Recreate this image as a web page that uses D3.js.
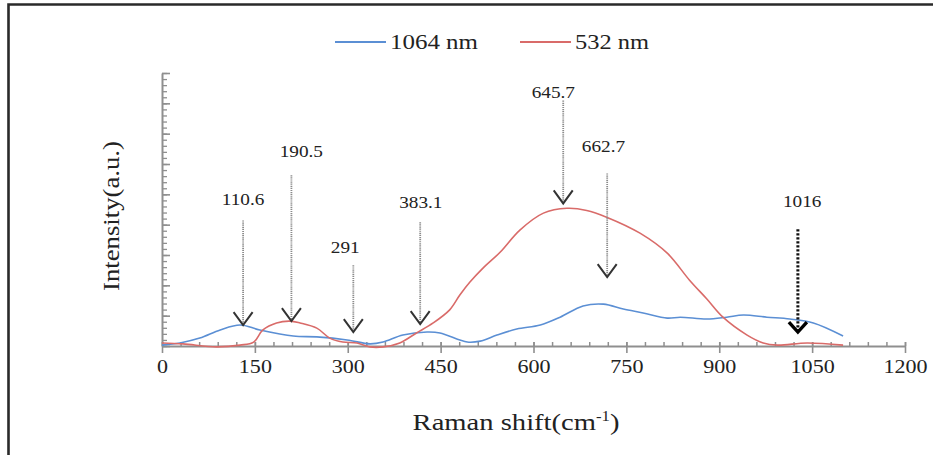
<!DOCTYPE html>
<html>
<head>
<meta charset="utf-8">
<script src="https://cdn.jsdelivr.net/npm/d3@7/dist/d3.min.js"></script>
<style>
  html, body { margin: 0; padding: 0; background: #fff; }
  svg { display: block; }
  svg text { font-family: "Liberation Serif", "Times New Roman", Times, serif; fill: #222; }
</style>
</head>
<body>
<svg id="chart" width="933" height="455"></svg>
<script>
// Raman shift (cm-1) and intensity (a.u.) for each excitation wavelength
const shift1064 = [0, 29, 61, 94, 126, 158, 212, 250, 299, 336, 357, 389, 428, 449, 493, 514, 541, 573, 611, 643, 680, 713, 745, 777, 816, 837, 880, 912, 939, 977, 1014, 1052, 1100];
const int1064   = [0.03, 0.1, 0.26, 0.53, 0.69, 0.53, 0.33, 0.3, 0.2, 0.07, 0.13, 0.36, 0.46, 0.43, 0.13, 0.16, 0.36, 0.56, 0.69, 0.95, 1.32, 1.38, 1.22, 1.09, 0.92, 0.95, 0.89, 0.95, 1.02, 0.95, 0.89, 0.76, 0.33];

const shift532 = [0, 34, 88, 126, 148, 163, 185, 207, 223, 250, 271, 292, 315, 336, 357, 384, 411, 438, 465, 481, 497, 520, 546, 578, 616, 654, 686, 719, 772, 816, 852, 880, 906, 945, 971, 994, 1042, 1100];
const int532   = [0.1, 0.07, -0.03, 0.03, 0.13, 0.53, 0.76, 0.82, 0.76, 0.59, 0.26, 0.13, 0.1, -0.03, -0.03, 0.1, 0.43, 0.76, 1.2, 1.68, 2.1, 2.6, 3.09, 3.82, 4.38, 4.54, 4.47, 4.24, 3.72, 3.06, 2.17, 1.55, 0.95, 0.36, 0.1, 0.03, 0.1, 0.03];

const seriesNames = ["1064 nm", "532 nm"];
const xTicks = [0, 150, 300, 450, 600, 750, 900, 1050, 1200];

// Peak annotations: label, arrow shaft position (cm-1), shaft top and tip (a.u.), label anchor
const annLabel  = ["110.6", "190.5", "291", "383.1", "645.7", "662.7", "1016"];
const annX      = [131, 209, 309, 417, 648, 719, 1027];
const annTop    = [4.14, 5.63, 2.66, 4.08, 8.09, 5.69, 3.85];
const annTip    = [0.69, 0.82, 0.46, 0.72, 4.70, 2.27, 0.46];
const annLabelX = [131, 225, 296, 418, 632, 713, 1034];
const annLabelY = [4.64, 6.22, 3.06, 4.54, 8.16, 6.41, 4.57];

const svg = d3.select("#chart");
const colors = ["#5b8fd4", "#d96b69"];
const serif = '"Liberation Serif", "Times New Roman", Times, serif';

const x = d3.scaleLinear().domain([0, 1200]).range([162, 905]);
const y = d3.scaleLinear().domain([0, 9]).range([346, 73]);

// horizontal stretch factor that brings a text to a given width
function fitWidth(node, target) {
  const w = node.getComputedTextLength();
  return w > 0 ? target / w : 1;
}

// outer frame (left and top edges)
svg.append("path")
  .attr("d", "M8.5,455 L8.5,4.5 L933,4.5")
  .attr("fill", "none").attr("stroke", "#2a2a2a").attr("stroke-width", 2.6);

// ---- axes ----
const axisColor = "#8f8f8f";

// x minor ticks (every 30, pointing up)
svg.append("g").attr("transform", `translate(0,${y(0)})`)
  .call(d3.axisTop(x).tickValues(d3.range(0, 1201, 30)).tickSize(4).tickFormat(""))
  .call(g => g.select(".domain").remove())
  .call(g => g.selectAll("line").attr("stroke", axisColor).attr("stroke-width", 1.5));

// x major ticks crossing the axis, with labels
const xAxisG = svg.append("g").attr("transform", `translate(0,${y(0)})`)
  .call(d3.axisBottom(x).tickValues(xTicks).tickFormat(d3.format("d"))
    .tickSize(7).tickSizeOuter(0).tickPadding(7));
xAxisG.attr("font-family", serif);
xAxisG.select(".domain").attr("stroke", axisColor).attr("stroke-width", 2);
xAxisG.selectAll(".tick line").attr("stroke", axisColor).attr("stroke-width", 1.6).attr("y1", -4);
xAxisG.selectAll(".tick text")
  .style("font-family", serif).style("font-size", "19px").attr("fill", "#333")
  .attr("transform", "scale(1.16,1)");

// y axis: minor ticks inside, major ticks, no labels
const yMinor = d3.range(0, 9.01, 0.2);
svg.append("g").attr("transform", `translate(${x(0)},0)`)
  .call(d3.axisRight(y).tickValues(yMinor).tickSize(5).tickFormat(""))
  .call(g => g.select(".domain").remove())
  .call(g => g.selectAll("line").attr("stroke", axisColor).attr("stroke-width", 1.3));
const yAxisG = svg.append("g").attr("transform", `translate(${x(0)},0)`)
  .call(d3.axisRight(y).tickValues(d3.range(0, 10, 1)).tickSize(8).tickSizeOuter(0).tickFormat(""));
yAxisG.select(".domain").attr("stroke", axisColor).attr("stroke-width", 2);
yAxisG.selectAll(".tick line").attr("stroke", axisColor).attr("stroke-width", 1.6);

// axis titles
const yTitle = svg.append("text")
  .attr("text-anchor", "middle")
  .style("font-family", serif)
  .style("font-size", "24px")
  .text("Intensity(a.u.)");
yTitle.attr("transform", `translate(119,216) rotate(-90) scale(${fitWidth(yTitle.node(), 150)},1)`);

const xTitle = svg.append("text")
  .attr("text-anchor", "middle")
  .style("font-family", serif)
  .style("font-size", "24px");
xTitle.append("tspan").text("Raman shift(cm");
xTitle.append("tspan").style("font-size", "14px").attr("dy", -9).text("-1");
xTitle.append("tspan").attr("dy", 9).text(")");
xTitle.attr("transform", `translate(516,430) scale(${fitWidth(xTitle.node(), 207)},1)`);

// ---- spectra ----
const line = d3.line().x(d => x(d[0])).y(d => y(d[1])).curve(d3.curveCatmullRom.alpha(0.5));
const data1064 = shift1064.map((s, i) => [s, int1064[i]]);
const data532 = shift532.map((s, i) => [s, int532[i]]);
[data1064, data532].forEach((d, i) => {
  svg.append("path").datum(d)
    .attr("d", line)
    .attr("fill", "none")
    .attr("stroke", colors[i])
    .attr("stroke-width", 1.6);
});

// ---- peak annotations ----
annLabel.forEach((lab, i) => {
  const bold = lab === "1016";
  const cx = x(annX[i]);
  const g = svg.append("g");
  g.append("line")
    .attr("x1", cx).attr("x2", cx)
    .attr("y1", y(annTop[i])).attr("y2", y(annTip[i]) - 2)
    .attr("stroke", bold ? "#111" : "#8a8a8a")
    .attr("stroke-width", bold ? 3 : 1.8)
    .attr("stroke-dasharray", bold ? "2.2,1.8" : "1.2,0.9");
  const tip = y(annTip[i]);
  const hw = bold ? 9 : 9.5, hh = bold ? 10 : 13;
  g.append("path")
    .attr("d", `M${cx - hw},${tip - hh} L${cx},${tip} L${cx + hw},${tip - hh}`)
    .attr("fill", "none")
    .attr("stroke", bold ? "#000" : "#333")
    .attr("stroke-width", bold ? 3.4 : 2);
  const t = g.append("text")
    .attr("text-anchor", "middle")
    .style("font-family", serif)
    .style("font-size", "17.5px")
    .attr("fill", "#222")
    .text(lab);
  t.attr("transform", `translate(${x(annLabelX[i])},${y(annLabelY[i])}) scale(1.1,1)`);
});

// ---- legend ----
const legendX = [335, 520];
const legendTextW = [88, 74];
seriesNames.forEach((name, i) => {
  svg.append("line")
    .attr("x1", legendX[i]).attr("x2", legendX[i] + 51)
    .attr("y1", 42).attr("y2", 42)
    .attr("stroke", colors[i]).attr("stroke-width", 1.8);
  const t = svg.append("text")
    .style("font-family", serif)
    .style("font-size", "21px")
    .attr("fill", "#222")
    .text(name);
  t.attr("transform", `translate(${legendX[i] + 55},49) scale(${fitWidth(t.node(), legendTextW[i])},1)`);
});
</script>
</body>
</html>
